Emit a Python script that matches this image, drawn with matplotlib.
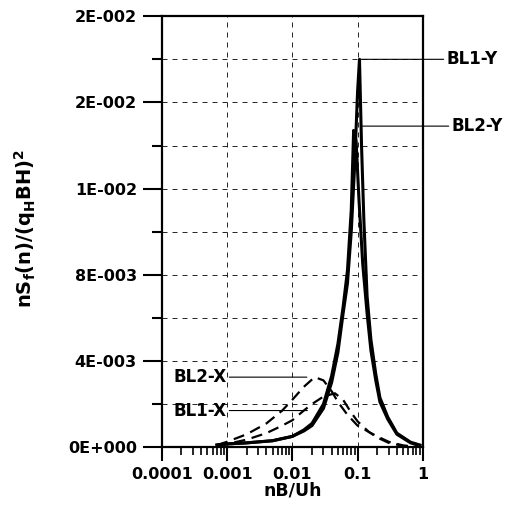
import numpy as np
import matplotlib
matplotlib.use('Agg')
import matplotlib.pyplot as plt
from matplotlib.ticker import FixedLocator, FuncFormatter, LogLocator, NullFormatter

plt.rcParams['font.family'] = ['DejaVu Sans']
plt.rcParams['font.weight'] = 'bold'
plt.rcParams['mathtext.fontset'] = 'custom'
plt.rcParams['mathtext.bf'] = 'DejaVu Sans:bold'
plt.rcParams['mathtext.rm'] = 'DejaVu Sans:bold'
plt.rcParams['mathtext.default'] = 'bf'

# spectra (y values in 1E-3)
bl1y_x = [0.0007, 0.001, 0.002, 0.005, 0.01, 0.015, 0.02, 0.03, 0.04, 0.05, 0.06, 0.07, 0.08, 0.09,
          0.1, 0.107, 0.115, 0.125, 0.14, 0.16, 0.19, 0.22, 0.29, 0.4, 0.65, 0.9]
bl1y_y = [0.1, 0.15, 0.2, 0.3, 0.5, 0.75, 1.0, 1.8, 3.0, 4.4, 6.2, 7.6, 10.0, 13.0,
          16.5, 18.0, 14.0, 10.5, 7.0, 5.0, 3.4, 2.3, 1.4, 0.65, 0.23, 0.1]

bl2y_x = [0.0007, 0.001, 0.002, 0.005, 0.01, 0.015, 0.02, 0.03, 0.04, 0.05, 0.06, 0.07, 0.08, 0.087,
          0.095, 0.105, 0.12, 0.14, 0.16, 0.19, 0.22, 0.29, 0.4, 0.65, 0.9]
bl2y_y = [0.1, 0.15, 0.2, 0.3, 0.5, 0.8, 1.1, 2.0, 3.3, 4.8, 6.5, 8.2, 11.0, 14.7,
          14.2, 11.5, 8.5, 6.2, 4.5, 3.1, 2.1, 1.3, 0.6, 0.2, 0.08]

bl2x_x = [0.0007, 0.001, 0.002, 0.004, 0.007, 0.01, 0.015, 0.022, 0.03, 0.04, 0.05, 0.07,
          0.1, 0.15, 0.2, 0.3, 0.5, 0.8]
bl2x_y = [0.1, 0.25, 0.6, 1.1, 1.7, 2.2, 2.8, 3.25, 3.1, 2.6, 2.1, 1.5,
          1.0, 0.7, 0.5, 0.25, 0.08, 0.02]

bl1x_x = [0.0007, 0.001, 0.002, 0.004, 0.007, 0.01, 0.015, 0.02, 0.03, 0.045, 0.06, 0.08,
          0.1, 0.15, 0.2, 0.3, 0.5, 0.8]
bl1x_y = [0.05, 0.15, 0.35, 0.65, 1.0, 1.25, 1.7, 2.0, 2.35, 2.5, 2.2, 1.6,
          1.2, 0.7, 0.45, 0.2, 0.06, 0.01]

xticks = [0.0001, 0.001, 0.01, 0.1, 1]
xticklabels = ['0.0001', '0.001', '0.01', '0.1', '1']


def sci(v, pos=None):
    s = '%.0E' % v
    m, e = s.split('E')
    return '%sE%+04d' % (m, int(e))


fig = plt.figure(figsize=(5.22, 5.07), dpi=100)
ax = fig.add_axes([0.310, 0.118, 0.500, 0.850])

ax.plot(bl1y_x, np.array(bl1y_y) * 1e-3, color='black', lw=2.2)
ax.plot(bl2y_x, np.array(bl2y_y) * 1e-3, color='black', lw=2.2)
ax.plot(bl2x_x, np.array(bl2x_y) * 1e-3, color='black', lw=1.6, ls=(0, (5, 3)))
ax.plot(bl1x_x, np.array(bl1x_y) * 1e-3, color='black', lw=1.6, ls=(0, (5, 3)))

ax.set_xscale('log')
ax.set_xlim(0.0001, 1)
ax.set_ylim(0, 0.02)
ax.set_xticks(xticks)
ax.set_xticklabels(xticklabels)
ax.xaxis.set_minor_locator(LogLocator(base=10, subs=np.arange(2, 10)))
ax.xaxis.set_minor_formatter(NullFormatter())
ax.yaxis.set_major_locator(FixedLocator(np.arange(0, 0.0201, 0.004)))
ax.yaxis.set_minor_locator(FixedLocator(np.arange(0.002, 0.02, 0.004)))
ax.yaxis.set_major_formatter(FuncFormatter(sci))

ax.grid(True, which='major', axis='x', color='black', ls=(0, (6, 6)), lw=0.6)
ax.grid(True, which='both', axis='y', color='black', ls=(0, (6, 6)), lw=0.6)

ax.tick_params(axis='y', which='major', direction='out', length=14, width=1.5, labelsize=11.5, pad=4)
ax.tick_params(axis='y', which='minor', direction='out', length=7, width=1.5)
ax.tick_params(axis='x', which='major', direction='out', length=10, width=1.5, labelsize=11.5, pad=4)
ax.tick_params(axis='x', which='minor', direction='out', length=6, width=1.2)
for sp in ax.spines.values():
    sp.set_linewidth(1.6)
for lab in ax.get_xticklabels() + ax.get_yticklabels():
    lab.set_fontweight('bold')

line = dict(arrowstyle='-', lw=0.8, color='black', shrinkA=0, shrinkB=0)
ax.annotate('BL1-Y', xy=(0.105, 0.018), xytext=(2.3, 0.018), ha='left', va='center',
            fontsize=12, fontweight='bold', arrowprops=line, annotation_clip=False)
ax.annotate('BL2-Y', xy=(0.113, 0.0149), xytext=(2.75, 0.0149), ha='left', va='center',
            fontsize=12, fontweight='bold', arrowprops=line, annotation_clip=False)
ax.annotate('BL2-X', xy=(0.0167, 0.00325), xytext=(0.00098, 0.00325), ha='right', va='center',
            fontsize=12, fontweight='bold', arrowprops=line)
ax.annotate('BL1-X', xy=(0.017, 0.0017), xytext=(0.00098, 0.0017), ha='right', va='center',
            fontsize=12, fontweight='bold', arrowprops=line)

ax.set_xlabel('nB/Uh', fontsize=12.5, fontweight='bold', labelpad=0)
fig.text(25 / 522, 0.55, r'nS$_f$(n)/(q$_H$BH)$^2$', rotation=90, ha='center', va='center',
         fontsize=14, fontweight='bold')

fig.savefig('out.png', dpi=100)
